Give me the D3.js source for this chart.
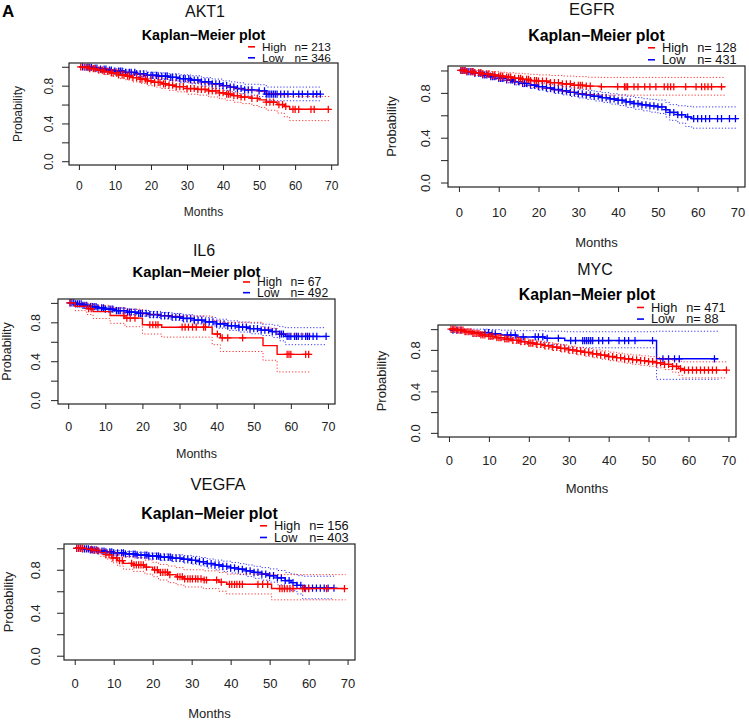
<!DOCTYPE html>
<html>
<head>
<meta charset="utf-8">
<script src="https://cdn.jsdelivr.net/npm/d3@7"></script>
<style>
  html, body { margin: 0; padding: 0; background: #fff; }
  svg { display: block; font-family: "Liberation Sans", Arial, Helvetica, sans-serif; }
</style>
</head>
<body>
<svg id="chart" width="749" height="720"></svg>
<script>
// ---------------- DATA ----------------
const PANELS = ["AKT1", "EGFR", "IL6", "MYC", "VEGFA"];
const GROUPS = ["High", "Low"];
const N_HIGH = [213, 128, 67, 471, 156];
const N_LOW = [346, 431, 492, 88, 403];
const X_TICKS = [0, 10, 20, 30, 40, 50, 60, 70];
const Y_TICKS = [0, 0.2, 0.4, 0.6, 0.8, 1.0];
const Y_TICK_LABELS = ["0.0", "", "0.4", "", "0.8", ""];
const MAIN_TITLE = "Kaplan\u2212Meier plot";
const X_LABEL = "Months";
const Y_LABEL = "Probability";
const FIG_LETTER = "A";

// steps: [time, survival, lower CI, upper CI]
const AKT1_HIGH = [[0,1,1,1],[1,0.995,0.985,1],[3,0.98,0.96,1],[5,0.965,0.94,0.99],[7,0.95,0.92,0.98],[9,0.935,0.90,0.97],[11,0.915,0.875,0.955],[13,0.90,0.86,0.945],[15,0.885,0.84,0.93],[17,0.87,0.825,0.915],[19,0.85,0.80,0.90],[21,0.835,0.785,0.89],[23,0.82,0.77,0.875],[25,0.805,0.75,0.86],[27,0.79,0.735,0.85],[30,0.77,0.71,0.83],[33,0.76,0.70,0.825],[36,0.745,0.68,0.81],[39,0.725,0.66,0.795],[41,0.71,0.645,0.785],[43,0.695,0.625,0.77],[45,0.68,0.61,0.76],[48,0.665,0.59,0.745],[50,0.65,0.57,0.735],[52,0.625,0.54,0.715],[55,0.60,0.51,0.70],[57,0.58,0.47,0.69],[58.5,0.55,0.43,0.685]];
const AKT1_HIGH_END = 69.5;
const AKT1_HIGH_CENS = [0.5,1.5,2.5,3,4,4.5,5.5,6.5,7,8,9,9.5,10.5,11,12,12.5,13.5,14,15,16,17,17.5,18.5,19,20,21,22,22.5,23.5,24,25,26,27,28,29,30,31,32,33,34,35,36,37,38,39,40,41,41.5,42,43,44,45,46,48,49.5,52,53,54,55.5,56.5,57.4,59.4,60,61,64.4,65.3,69.2];
const AKT1_LOW = [[0,1,1,1],[2,0.995,0.99,1],[4,0.985,0.97,0.995],[6,0.975,0.96,0.99],[8,0.965,0.945,0.985],[10,0.955,0.935,0.978],[13,0.94,0.915,0.965],[16,0.925,0.895,0.955],[19,0.91,0.88,0.942],[22,0.90,0.865,0.935],[25,0.888,0.85,0.925],[28,0.875,0.835,0.915],[31,0.86,0.82,0.905],[34,0.84,0.795,0.885],[37,0.82,0.77,0.87],[40,0.80,0.75,0.85],[42,0.785,0.735,0.84],[44,0.77,0.715,0.83],[46,0.755,0.70,0.815],[50,0.745,0.685,0.81],[52,0.71,0.64,0.785]];
const AKT1_LOW_END = 67;
const AKT1_LOW_CENS = [1,2,2.5,3,3.5,4.5,5,6,7,7.5,8.5,9,10,11,11.5,12,13,14,14.5,15.5,16,17,18,19,20,20.5,21.5,22,23,24,24.5,25.5,26,27,28,29,29.5,30.5,31,32,33,34,35,36,37,38,39,40,41,42,43,44,45,46,47,48,50,51.5,52,52.5,53,53.5,54,54.5,55,56,57,58,59.5,61,62,63.5,65,66,67];

const EGFR_HIGH = [[0,1,1,1],[2,0.99,0.975,1],[4,0.98,0.955,1],[6,0.97,0.94,0.995],[8,0.96,0.925,0.99],[10,0.95,0.91,0.985],[12,0.94,0.895,0.98],[14,0.93,0.88,0.975],[16,0.92,0.865,0.97],[18,0.91,0.85,0.965],[20,0.905,0.84,0.96],[23,0.892,0.825,0.955],[26,0.88,0.81,0.95],[29,0.868,0.795,0.945],[32,0.86,0.785,0.94],[35.5,0.855,0.78,0.938]];
const EGFR_HIGH_END = 67;
const EGFR_HIGH_CENS = [0.5,1,1.5,2,3,3.5,4,5,5.5,6,7,7.5,8.5,9,10,10.5,11,12,12.5,13,14,15,15.5,16,17,17.5,18,19,19.5,20,21,22,23,24,25,26,27,28,29,30,30.5,31,32,33,35.8,39.9,41.6,42,42.4,44,45,46.7,48,49.5,51.6,52.5,53.2,54,57,59.6,61,61.8,62.6,63.5,66];
const EGFR_LOW = [[0,1,1,1],[2,0.99,0.98,1],[4,0.975,0.96,0.99],[6,0.96,0.94,0.98],[8,0.945,0.92,0.965],[10,0.93,0.905,0.953],[12,0.915,0.89,0.94],[14,0.90,0.872,0.928],[16,0.885,0.855,0.915],[18,0.87,0.84,0.90],[20,0.856,0.825,0.888],[22,0.843,0.81,0.876],[24,0.83,0.795,0.865],[26,0.818,0.782,0.854],[28,0.805,0.768,0.843],[30,0.792,0.754,0.832],[32,0.782,0.742,0.823],[34,0.77,0.728,0.813],[36,0.758,0.715,0.802],[38,0.746,0.70,0.792],[40,0.734,0.687,0.782],[42,0.72,0.67,0.77],[44,0.705,0.654,0.758],[46,0.693,0.64,0.748],[48,0.684,0.628,0.742],[50,0.675,0.617,0.736],[52,0.65,0.585,0.715],[53,0.625,0.555,0.695],[55,0.605,0.53,0.685],[57,0.585,0.50,0.68],[58.5,0.57,0.485,0.675]];
const EGFR_LOW_END = 70;
const EGFR_LOW_CENS = [0.5,1,1.5,2,2.5,3,3.5,4,5,5.5,6,6.5,7,8,8.5,9,10,10.5,11,12,13,13.5,14,15,16,16.5,17,18,19,20,21,22,23,24,25,26,27,28,29,30,31,32,33,34,35,36,37,38,39,40,41,42,43,44,45,46,47,48,49,50,51,52,53,54,55,56,57.5,59,60,61,62,63,65,66,68,69.5];

const IL6_HIGH = [[0,1,1,1],[1.8,0.966,0.92,1],[5,0.94,0.88,0.995],[6.7,0.91,0.84,0.975],[11.3,0.87,0.79,0.95],[15.3,0.843,0.755,0.935],[20,0.775,0.68,0.88],[25.2,0.75,0.648,0.865],[38.8,0.68,0.57,0.82],[41,0.64,0.50,0.80],[52.5,0.56,0.41,0.74],[56.3,0.47,0.29,0.68]];
const IL6_HIGH_END = 65.3;
const IL6_HIGH_CENS = [0.5,5.5,6.2,15,15.8,16.7,18,22,22.8,23.6,24.2,30.7,31.5,32.4,33.5,34.5,36.5,37,40.2,41.5,43,47,59,59.5,60,64,64.8];
const IL6_LOW = [[0,1,1,1],[2,0.99,0.98,1],[4,0.975,0.962,0.99],[6,0.962,0.945,0.98],[8,0.948,0.928,0.968],[10,0.935,0.912,0.957],[13,0.92,0.895,0.945],[16,0.905,0.878,0.933],[19,0.893,0.864,0.922],[22,0.88,0.85,0.912],[25,0.868,0.835,0.902],[28,0.855,0.82,0.891],[31,0.84,0.803,0.878],[34,0.823,0.783,0.864],[37,0.805,0.762,0.85],[40,0.785,0.74,0.832],[43,0.765,0.717,0.815],[46,0.75,0.70,0.803],[49,0.735,0.682,0.792],[52,0.72,0.664,0.78],[55,0.705,0.645,0.77],[57,0.68,0.61,0.755],[58.5,0.655,0.57,0.745]];
const IL6_LOW_END = 69.5;
const IL6_LOW_CENS = [0.5,1,1.5,2,2.5,3,3.5,4,4.5,5,6,6.5,7,7.5,8,9,9.5,10,11,11.5,12,13,13.5,14,15,16,16.5,17,18,19,19.5,20,21,22,23,24,25,26,27,28,29,30,31,32,33,34,35,36,37,38,39,40,41,42,43,44,45,46,47,48,49,50,51,52,53,54,55,56,57,57.5,58,59,59.5,60,61,61.5,62,63,64,64.5,65,66,67,69.5];

const MYC_HIGH = [[0,1,1,1],[2,0.99,0.98,1],[4,0.975,0.962,0.99],[6,0.96,0.945,0.977],[8,0.945,0.926,0.963],[10,0.93,0.908,0.95],[12,0.918,0.894,0.94],[14,0.905,0.88,0.93],[16,0.892,0.865,0.918],[18,0.88,0.852,0.907],[20,0.866,0.837,0.895],[22,0.853,0.823,0.883],[24,0.84,0.808,0.871],[26,0.827,0.794,0.86],[28,0.814,0.78,0.848],[30,0.80,0.765,0.836],[32,0.788,0.752,0.825],[34,0.775,0.738,0.813],[36,0.762,0.724,0.80],[38,0.749,0.71,0.79],[40,0.736,0.696,0.778],[42,0.725,0.684,0.768],[44,0.714,0.672,0.758],[46,0.705,0.661,0.75],[48,0.696,0.651,0.742],[50,0.688,0.642,0.735],[52,0.675,0.627,0.725],[54,0.66,0.61,0.713],[56,0.64,0.585,0.70],[57.5,0.62,0.555,0.69],[58.5,0.605,0.53,0.685]];
const MYC_HIGH_END = 69.5;
const MYC_HIGH_CENS = [0.5,1,1.5,2,2.5,3,3.5,4,4.5,5,5.5,6,6.5,7,7.5,8,8.5,9,10,10.5,11,12,12.5,13,14,14.5,15,16,17,17.5,18,19,20,20.5,21,22,23,24,25,26,27,28,29,30,31,32,33,34,35,36,37,38,39,40,41,42,43,44,45,46,47,48,49,50,51,52,53,54,55,56,57,58,59,60,61,62,63,64,65,66,67,69.5];
const MYC_LOW = [[0,1,1,1],[0.5,0.99,0.97,1],[4,0.978,0.95,1],[6,0.967,0.93,1],[10,0.955,0.91,0.995],[13,0.943,0.895,0.99],[17,0.925,0.87,0.985],[24,0.912,0.85,0.98],[29,0.89,0.82,0.975],[52,0.714,0.516,0.98]];
const MYC_LOW_END = 67.5;
const MYC_LOW_CENS = [1,2,3,9,9.9,10.8,11.6,14.6,15.5,16.6,18.6,21.6,22.4,23.5,24.6,27.4,30.5,31.7,33.5,34,34.5,35,35.5,36,37.5,38.5,40,42.6,44,45,46.6,51,53.6,55,56.5,57.7,66.5];

const VEGFA_HIGH = [[0,1,1,1],[3,0.99,0.975,1],[5,0.98,0.955,1],[6.5,0.96,0.925,0.99],[8,0.94,0.90,0.98],[9.5,0.91,0.865,0.96],[11,0.885,0.835,0.94],[12.5,0.86,0.805,0.92],[15,0.845,0.785,0.91],[18,0.825,0.76,0.89],[20,0.80,0.735,0.87],[21.5,0.775,0.705,0.85],[24,0.755,0.68,0.835],[26,0.735,0.66,0.82],[28,0.715,0.64,0.80],[33,0.705,0.625,0.79],[37,0.685,0.60,0.775],[39,0.665,0.575,0.76],[50.5,0.625,0.52,0.755]];
const VEGFA_HIGH_END = 69.5;
const VEGFA_HIGH_CENS = [0.5,1,1.5,2,4.3,5,5.9,8,8.8,9.8,10.7,11.5,12.2,14.6,15.2,15.8,16.4,17,17.6,18.4,20.5,21.2,22,22.6,23.2,23.8,24.4,26.4,27,27.6,28.2,29,29.6,30.2,31,31.6,32.4,33.2,33.8,36.4,37.6,39.7,40.3,41,41.6,42.3,43,47,48.2,49.5,52.6,53.2,53.8,54.5,55.2,56,58.5,59.2,60,64.6,69.2];
const VEGFA_LOW = [[0,1,1,1],[2,0.995,0.99,1],[4,0.985,0.972,0.997],[6,0.975,0.96,0.99],[8,0.967,0.95,0.985],[10,0.958,0.938,0.978],[13,0.947,0.925,0.97],[16,0.937,0.912,0.962],[19,0.928,0.90,0.955],[22,0.918,0.888,0.947],[25,0.908,0.876,0.94],[28,0.898,0.863,0.932],[30,0.888,0.852,0.925],[32,0.875,0.836,0.914],[34,0.858,0.816,0.90],[36,0.845,0.80,0.89],[38,0.832,0.785,0.88],[40,0.818,0.77,0.868],[42,0.805,0.755,0.857],[44,0.79,0.738,0.845],[46,0.775,0.72,0.832],[48,0.76,0.703,0.82],[50,0.745,0.685,0.808],[52,0.725,0.66,0.793],[54,0.70,0.63,0.775],[55.5,0.68,0.605,0.76],[57,0.655,0.575,0.745],[58.5,0.63,0.53,0.74]];
const VEGFA_LOW_END = 66.5;
const VEGFA_LOW_CENS = [0.5,1,1.5,2,2.5,3,3.5,4,4.5,5,5.5,6,7,7.5,8,9,9.5,10,11,12,12.5,13,14,15,15.5,16,17,18,18.5,19,20,21,21.5,22,23,24,24.5,25,26,27,28,29,30,31,32,33,34,35,36,37,38,39,40,41,42,43,44,45,46,47,48,49,50,51,52,53,54,55,56,57,58,59,60,61,62,63,64,65,66.5];

// ---------------- LAYOUT (positions / styles only) ----------------
const LAYOUT = {
  AKT1:  {box:[69,63,338,165],  titleX:205, titleDy:46.3, kmDy:23.5, legHighDy:12.3, legLowDy:1.3, legDx:-90, fsTitle:16,   fsKm:14.3, fsLeg:11.8, fsAxis:12,   xLabDy:25,   monthsDy:51, yLabDx:16, probDx:47},
  EGFR:  {box:[448,66,745,187], titleX:592, titleDy:51,   kmDy:25.5, legHighDy:14,   legLowDy:2,   legDx:-97, fsTitle:16.5, fsKm:15.8, fsLeg:12.8, fsAxis:13,   xLabDy:29.7, monthsDy:60, yLabDx:18, probDx:52},
  IL6:   {box:[58,299,335,404], titleX:204, titleDy:43,   kmDy:22.5, legHighDy:13,   legLowDy:2.3, legDx:-92, fsTitle:16,   fsKm:14.8, fsLeg:12.2, fsAxis:12.5, xLabDy:27,   monthsDy:54, yLabDx:18, probDx:47},
  MYC:   {box:[438,325,736,437],titleX:595, titleDy:50,   kmDy:24.8, legHighDy:13.3, legLowDy:1.7, legDx:-99, fsTitle:16,   fsKm:15.8, fsLeg:12.8, fsAxis:13,   xLabDy:28,   monthsDy:56, yLabDx:18, probDx:52},
  VEGFA: {box:[64,544,355,660], titleX:218, titleDy:54,   kmDy:25.5, legHighDy:14,   legLowDy:2.3, legDx:-95, fsTitle:16.5, fsKm:15.8, fsLeg:12.8, fsAxis:13,   xLabDy:28,   monthsDy:58, yLabDx:24, probDx:51}
};
const COLORS = {High: "#FF0000", Low: "#0000FF"};

const DATA = {
  AKT1:  {High:{steps:AKT1_HIGH, end:AKT1_HIGH_END, cens:AKT1_HIGH_CENS}, Low:{steps:AKT1_LOW, end:AKT1_LOW_END, cens:AKT1_LOW_CENS}},
  EGFR:  {High:{steps:EGFR_HIGH, end:EGFR_HIGH_END, cens:EGFR_HIGH_CENS}, Low:{steps:EGFR_LOW, end:EGFR_LOW_END, cens:EGFR_LOW_CENS}},
  IL6:   {High:{steps:IL6_HIGH, end:IL6_HIGH_END, cens:IL6_HIGH_CENS}, Low:{steps:IL6_LOW, end:IL6_LOW_END, cens:IL6_LOW_CENS}},
  MYC:   {High:{steps:MYC_HIGH, end:MYC_HIGH_END, cens:MYC_HIGH_CENS}, Low:{steps:MYC_LOW, end:MYC_LOW_END, cens:MYC_LOW_CENS}},
  VEGFA: {High:{steps:VEGFA_HIGH, end:VEGFA_HIGH_END, cens:VEGFA_HIGH_CENS}, Low:{steps:VEGFA_LOW, end:VEGFA_LOW_END, cens:VEGFA_LOW_CENS}}
};

// ---------------- DRAW ----------------
const svg = d3.select("#chart");
svg.append("rect").attr("width", 749).attr("height", 720).attr("fill", "#fff");

svg.append("text").attr("x", 2).attr("y", 16.7)
  .attr("font-size", 17).attr("font-weight", "bold").attr("fill", "#000").text(FIG_LETTER);

PANELS.forEach((name, pi) => {
  const L = LAYOUT[name];
  const [x0, y0, x1, y1] = L.box;
  const g = svg.append("g");
  const x = d3.scaleLinear().domain([-2.75, 71.9]).range([x0, x1]);
  const y = d3.scaleLinear().domain([-0.04, 1.04]).range([y1, y0]);
  const cx = (x0 + x1) / 2, cy = (y0 + y1) / 2;

  // gene title
  g.append("text").attr("x", L.titleX).attr("y", y0 - L.titleDy).attr("text-anchor", "middle")
    .attr("font-size", L.fsTitle).attr("fill", "#111").text(name);
  // main title
  g.append("text").attr("x", cx).attr("y", y0 - L.kmDy).attr("text-anchor", "middle")
    .attr("font-size", L.fsKm).attr("font-weight", "bold").attr("fill", "#000").text(MAIN_TITLE);

  // legend
  const ns = {High: N_HIGH[pi], Low: N_LOW[pi]};
  GROUPS.forEach(gr => {
    const by = y0 - (gr === "High" ? L.legHighDy : L.legLowDy);
    const lx = x1 + L.legDx;
    g.append("line").attr("x1", lx).attr("x2", lx + 7)
      .attr("y1", by - L.fsLeg * 0.33).attr("y2", by - L.fsLeg * 0.33)
      .attr("stroke", COLORS[gr]).attr("stroke-width", 1.6);
    g.append("text").attr("x", lx + 14).attr("y", by).attr("font-size", L.fsLeg).attr("fill", "#111").text(gr);
    g.append("text").attr("x", lx + 14 + 2.75 * L.fsLeg).attr("y", by).attr("font-size", L.fsLeg).attr("fill", "#111").text("n= " + ns[gr]);
  });

  // x axis
  const xAxis = d3.axisBottom(x).tickValues(X_TICKS).tickSize(5).tickSizeOuter(0).tickPadding(0).tickFormat(d3.format("d"));
  const gx = g.append("g").attr("transform", `translate(0,${y1})`).call(xAxis);
  gx.select(".domain").remove();
  gx.selectAll(".tick line").attr("stroke", "#222");
  gx.selectAll(".tick text").attr("font-size", L.fsAxis).attr("fill", "#222")
    .attr("dy", null).attr("y", L.xLabDy).attr("font-family", null);

  // y axis
  const yAxis = d3.axisLeft(y).tickValues(Y_TICKS).tickSize(7).tickSizeOuter(0)
    .tickFormat((d, i) => Y_TICK_LABELS[i]);
  const gy = g.append("g").attr("transform", `translate(${x0},0)`).call(yAxis);
  gy.select(".domain").remove();
  gy.selectAll(".tick line").attr("stroke", "#222");
  gy.selectAll(".tick text").attr("font-size", L.fsAxis).attr("fill", "#222").attr("font-family", null)
    .attr("x", null).attr("dy", null).attr("text-anchor", "middle")
    .attr("transform", `translate(${-L.yLabDx},0) rotate(-90)`);

  // axis titles
  g.append("text").attr("x", cx).attr("y", y1 + L.monthsDy).attr("text-anchor", "middle")
    .attr("font-size", L.fsAxis).attr("fill", "#222").text(X_LABEL);
  g.append("text").attr("transform", `translate(${x0 - L.probDx},${cy}) rotate(-90)`)
    .attr("text-anchor", "middle").attr("font-size", L.fsAxis).attr("fill", "#222").text(Y_LABEL);

  // curves: Low first, High on top
  ["Low", "High"].forEach(gr => {
    const D = DATA[name][gr];
    const pts = D.steps.concat([[D.end].concat(D.steps[D.steps.length - 1].slice(1))]);
    const col = COLORS[gr];
    [2, 3].forEach(k => {
      const line = d3.line().x(d => x(d[0])).y(d => y(d[k])).curve(d3.curveStepAfter);
      g.append("path").attr("d", line(pts.slice(1)))
        .attr("fill", "none").attr("stroke", col).attr("stroke-width", 1)
        .attr("stroke-dasharray", "1.2,2").attr("opacity", 0.8);
    });
    const sLine = d3.line().x(d => x(d[0])).y(d => y(d[1])).curve(d3.curveStepAfter);
    g.append("path").attr("d", sLine(pts)).attr("fill", "none").attr("stroke", col).attr("stroke-width", 1.4);

    const bis = d3.bisector(d => d[0]).right;
    const survAt = t => D.steps[Math.max(0, bis(D.steps, t) - 1)][1];
    const cg = g.append("g").attr("stroke", col).attr("stroke-width", 1.25);
    D.cens.forEach(t => {
      const px = x(t), py = y(survAt(t));
      cg.append("path").attr("d", `M${px - 3.6},${py}H${px + 3.6}M${px},${py - 3.6}V${py + 3.6}`);
    });
  });

  // box
  g.append("rect").attr("x", x0).attr("y", y0).attr("width", x1 - x0).attr("height", y1 - y0)
    .attr("fill", "none").attr("stroke", "#222").attr("stroke-width", 1.2);
});
</script>
</body>
</html>
